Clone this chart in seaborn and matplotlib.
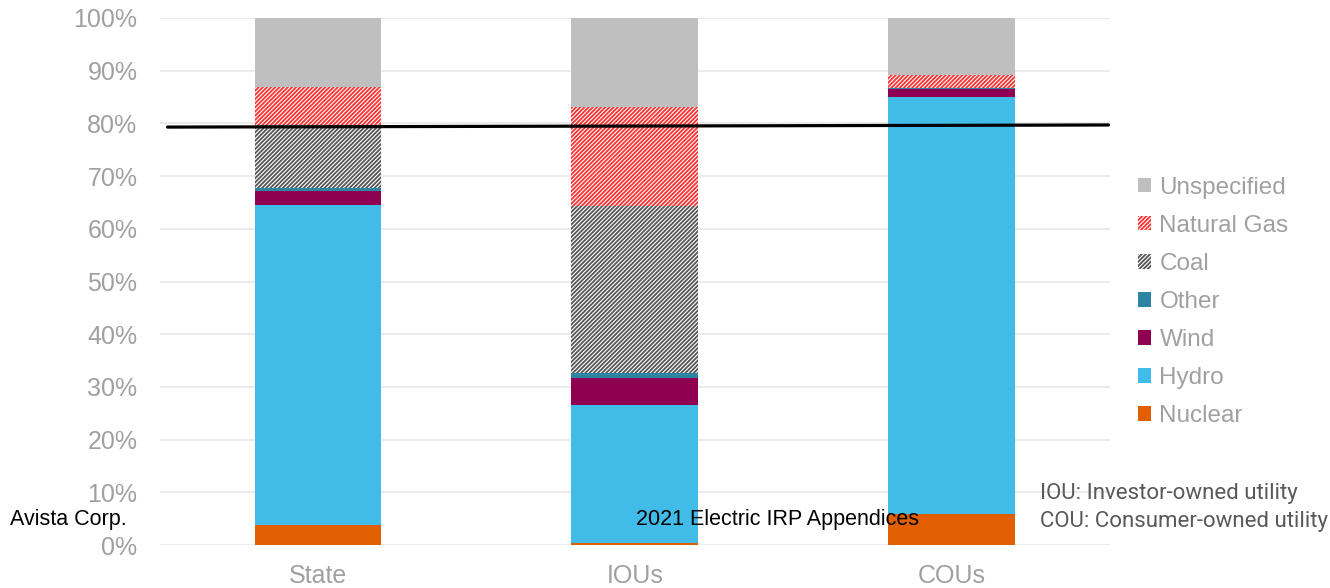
import numpy as np
import pandas as pd
import seaborn as sns
import matplotlib
matplotlib.use("Agg")
from matplotlib import pyplot as plt
from matplotlib.patches import Patch

# data (percent of each group's fuel mix)
groups = ["State", "IOUs", "COUs"]
sources = ["Nuclear", "Hydro", "Wind", "Other", "Coal", "Natural Gas", "Unspecified"]
nuclear = [3.8, 0.3, 5.9]
hydro = [60.7, 26.3, 79.2]
wind = [2.7, 5.1, 1.4]
other = [0.5, 0.9, 0.3]
coal = [12.0, 31.7, 0.0]
natural_gas = [7.2, 18.9, 2.3]
unspecified = [13.1, 16.8, 10.9]
ref_line = [79.3, 79.7]   # black horizontal line, left end / right end

sns.set_theme(style="white")
plt.rcParams['font.family'] = ['Liberation Sans', 'DejaVu Sans']

df = pd.DataFrame({"group": groups, "Nuclear": nuclear, "Hydro": hydro, "Wind": wind,
                   "Other": other, "Coal": coal, "Natural Gas": natural_gas,
                   "Unspecified": unspecified})

styles = {
    "Nuclear": dict(color="#e15f00", hatch=None, edge="#e15f00"),
    "Hydro": dict(color="#41bce9", hatch=None, edge="#41bce9"),
    "Wind": dict(color="#900052", hatch=None, edge="#900052"),
    "Other": dict(color="#2e84a3", hatch=None, edge="#2e84a3"),
    "Coal": dict(color="white", hatch="////////", edge="#555555"),
    "Natural Gas": dict(color="white", hatch="////////", edge="#ff3030"),
    "Unspecified": dict(color="#bfbfbf", hatch=None, edge="#bfbfbf"),
}

fig = plt.figure(figsize=(13.3, 5.88), dpi=100)
ax = fig.add_axes([0.12, 0.0731, 0.7146, 0.8963])
plt.rcParams['hatch.linewidth'] = 1.3

bottom = np.zeros(len(groups))
for src in sources:
    st = styles[src]
    n_before = len(ax.patches)
    sns.barplot(data=df, x="group", y=src, ax=ax, color=st["color"], width=0.4,
                bottom=bottom, saturation=1, order=groups)
    for p in ax.patches[n_before:]:
        p.set_facecolor(st["color"])
        p.set_edgecolor(st["edge"])
        p.set_linewidth(0)
        if st["hatch"]:
            p.set_hatch(st["hatch"])
    bottom = bottom + df[src].values

ax.plot([-0.475, 2.495], ref_line, color="black", lw=2.3, zorder=5)

ax.set_xlim(-0.5, 2.5)
ax.set_ylim(0, 100)
ax.set_yticks(np.arange(0, 101, 10))
ax.set_yticklabels([f"{v}%" for v in range(0, 101, 10)])
ax.yaxis.grid(True, color="#e8e8e8", lw=1.2)
ax.set_axisbelow(True)
for s in ax.spines.values():
    s.set_visible(False)
ax.set_xlabel("")
ax.set_ylabel("")
ax.tick_params(axis="both", labelsize=18, colors="#a0a0a0", length=0)
ax.tick_params(axis="y", pad=16)
ax.tick_params(axis="x", pad=14)

handles = []
for src in sources[::-1]:
    st = styles[src]
    handles.append(Patch(facecolor=st["color"], edgecolor=st["edge"], hatch=st["hatch"],
                         linewidth=0, label=src))
leg = fig.legend(handles=handles, loc="upper left", bbox_to_anchor=(0.848, 0.716),
                 frameon=False, fontsize=17.5, labelcolor="#a0a0a0",
                 handlelength=0.55, handleheight=0.55, handletextpad=0.35,
                 labelspacing=0.66, borderaxespad=0)

fig.text(10 / 1330, 1 - 520 / 588, "Avista Corp.", fontsize=15.5, color="black", va="center")
fig.text(778 / 1330, 1 - 520 / 588, "2021 Electric IRP Appendices", fontsize=15.5,
         color="black", va="center", ha="center", zorder=10)
fig.text(1040 / 1330, 1 - 494 / 588, "IOU: Investor-owned utility", fontsize=16,
         color="#595959", va="center", family=["Roboto", "DejaVu Sans"])
fig.text(1040 / 1330, 1 - 521 / 588, "COU: Consumer-owned utility", fontsize=16,
         color="#595959", va="center", family=["Roboto", "DejaVu Sans"])

fig.savefig("out.png", dpi=100)
